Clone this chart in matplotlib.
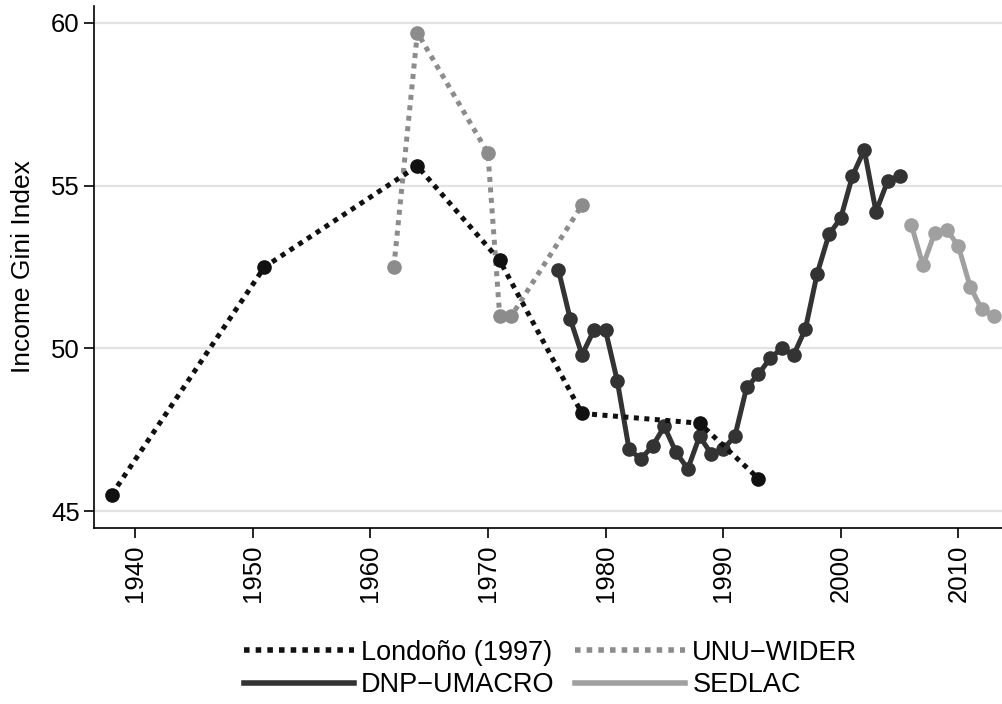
import numpy as np
import matplotlib
matplotlib.use("Agg")
import matplotlib.pyplot as plt
from matplotlib.lines import Line2D

plt.rcParams['font.family'] = ['Liberation Sans', 'DejaVu Sans']

# Londoño (1997)
londono_years = [1938, 1951, 1964, 1971, 1978, 1988, 1993]
londono_gini = [45.5, 52.5, 55.6, 52.7, 48.0, 47.7, 46.0]

# UNU-WIDER
wider_years = [1962, 1964, 1970, 1971, 1972, 1978]
wider_gini = [52.5, 59.7, 56.0, 51.0, 51.0, 54.4]

# DNP-UMACRO
dnp_years = list(range(1976, 2006))
dnp_gini = [52.4, 50.9, 49.8, 50.55, 50.55, 49.0, 46.9, 46.6, 47.0, 47.6,
            46.8, 46.3, 47.3, 46.75, 46.9, 47.3, 48.8, 49.2, 49.7, 50.0,
            49.8, 50.6, 52.3, 53.5, 54.0, 55.3, 56.1, 54.2, 55.15, 55.3]

# SEDLAC
sedlac_years = list(range(2006, 2014))
sedlac_gini = [53.8, 52.55, 53.55, 53.65, 53.15, 51.9, 51.2, 51.0]

dotted = (0, (1, 1.1))
lw = 3.6
ms = 9.5

series = [
    (londono_years, londono_gini, "#111111", dotted, "Londoño (1997)", 4),
    (dnp_years, dnp_gini, "#333333", "-", "DNP\u2212UMACRO", 3),
    (wider_years, wider_gini, "#8c8c8c", dotted, "UNU\u2212WIDER", 3),
    (sedlac_years, sedlac_gini, "#a0a0a0", "-", "SEDLAC", 3),
]

fig = plt.figure(figsize=(10.03, 7.04), dpi=100)
ax = fig.add_axes([0.0937, 0.25, 0.9063, 0.7415])

leg_handles = []
labels = []
for x, y, c, ls, lab, z in series:
    ax.plot(x, y, color=c, lw=lw, linestyle=ls, dash_capstyle="butt",
            marker="o", ms=ms, zorder=z)
    leg_handles.append(Line2D([], [], color=c, lw=lw + 0.4, linestyle=ls,
                              dash_capstyle="butt"))
    labels.append(lab)

ax.set_xlim(1936.5, 2013.8)
ax.set_ylim(44.48, 60.52)
ax.set_yticks([45, 50, 55, 60])
ax.set_xticks(range(1940, 2011, 10))
ax.tick_params(axis='x', labelrotation=90, labelsize=18.5, length=7.2, width=1.2, pad=5)
ax.tick_params(axis='y', labelsize=18.5, length=7.2, width=1.2, pad=3)
ax.set_ylabel("Income Gini Index", fontsize=19)
ax.yaxis.set_label_coords(-0.065, 0.5)

ax.grid(axis='y', color="#e3e3e3", lw=1.6)
ax.set_axisbelow(True)
for s in ["top", "right"]:
    ax.spines[s].set_visible(False)
ax.spines["left"].set_linewidth(1.2)
ax.spines["bottom"].set_linewidth(1.2)

fig.legend(leg_handles, labels, loc="center", bbox_to_anchor=(0.549, 0.05), ncol=2,
           frameon=False, fontsize=19.5, handlelength=4.07, handletextpad=0.26,
           columnspacing=0.75, labelspacing=0.24, borderpad=0)

fig.savefig("out.png", dpi=100)
